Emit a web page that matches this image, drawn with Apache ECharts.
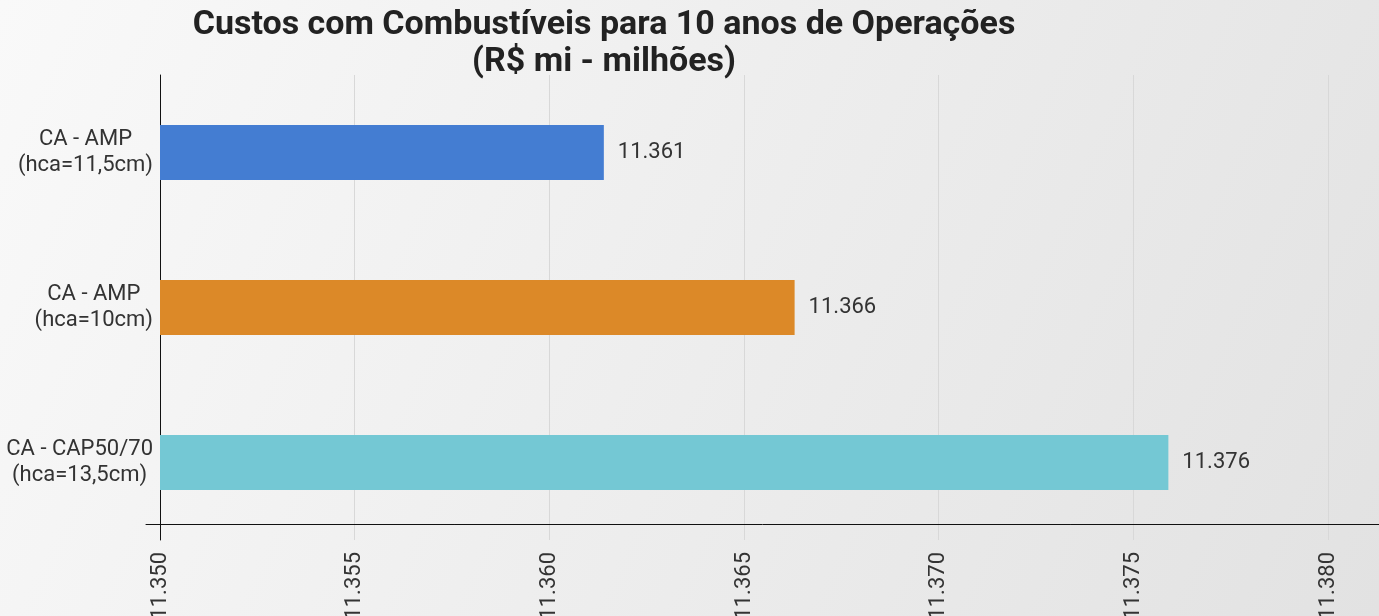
<!DOCTYPE html>
<html><head><meta charset="utf-8">
<script src="https://cdn.jsdelivr.net/npm/echarts@6/dist/echarts.min.js"></script>
<style>html,body{margin:0;padding:0;}#c{width:1379px;height:616px;}</style>
</head><body><div id="c"></div>
<script>
const titleLines = ['Custos com Combustíveis para 10 anos de Operações', '(R$ mi - milhões)'];
const categories = ['CA - AMP\n(hca=11,5cm)', 'CA - AMP\n(hca=10cm)', 'CA - CAP50/70\n(hca=13,5cm)'];
const values = [11.3614, 11.3663, 11.3759];
const barColors = ['#447DD2', '#DC8928', '#74C8D4'];
const axisMin = 11.35, axisMax = 11.38, axisStep = 0.005;

const chart = echarts.init(document.getElementById('c'));
const font = 'Roboto';
chart.setOption({
  backgroundColor: new echarts.graphic.LinearGradient(0, 0, 1, 1, [
    {offset: 0, color: '#f9f9f9'}, {offset: 1, color: '#e2e2e2'}
  ]),
  animation: false,
  title: {
    text: titleLines.join('\n'),
    left: 599, top: 2, textAlign: 'center',
    textStyle: {fontFamily: font, fontWeight: 'bold', fontSize: 34, color: '#222', lineHeight: 37}
  },
  grid: [
    {left: 160, right: 51, top: 75, bottom: 76, containLabel: false, outerBoundsMode: 'none'},
    {left: 146, right: 0, top: 500, bottom: 92, containLabel: false, outerBoundsMode: 'none'}
  ],
  xAxis: [
    {
      type: 'value', gridIndex: 0, min: axisMin, max: axisMax, interval: axisStep,
      axisLine: {show: false}, axisTick: {show: false},
      splitLine: {show: true, lineStyle: {color: '#d8d8d8', width: 1}},
      axisLabel: {rotate: 90, margin: 12, fontFamily: font, fontSize: 22, color: '#333',
        formatter: v => v.toFixed(3)}
    },
    {
      type: 'value', gridIndex: 1, min: 0, max: 1,
      axisLine: {show: true, lineStyle: {color: '#111', width: 1}},
      axisTick: {show: false}, axisLabel: {show: false}, splitLine: {show: false}
    }
  ],
  yAxis: [
    {
      type: 'category', gridIndex: 0, data: categories, inverse: true,
      axisLine: {show: true, lineStyle: {color: '#111', width: 1}},
      axisTick: {show: false},
      axisLabel: {
        margin: 7, fontFamily: font, fontSize: 22, color: '#333', align: 'right',
        formatter: v => v.split('\n').map(s => '{a|' + s + '}').join('\n'),
        rich: {a: {align: 'center', fontFamily: font, fontSize: 22, color: '#333', lineHeight: 26}}
      }
    },
    {type: 'value', gridIndex: 1, show: false}
  ],
  series: [{
    type: 'bar', xAxisIndex: 0, yAxisIndex: 0,
    data: values.map((v, i) => ({value: v, itemStyle: {color: barColors[i]}})),
    barWidth: 55,
    label: {show: true, position: 'right', distance: 14, fontFamily: font, fontSize: 22, color: '#333',
      formatter: p => p.value.toFixed(3)}
  }]
});
</script></body></html>
